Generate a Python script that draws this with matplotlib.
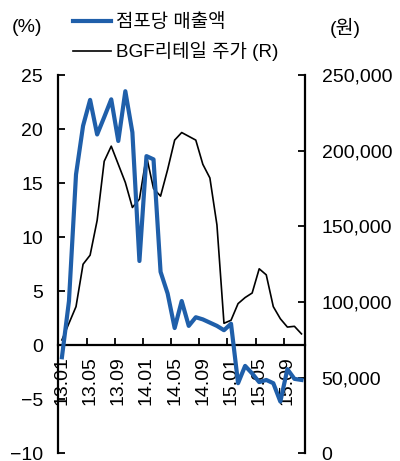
import matplotlib
matplotlib.use("Agg")
import matplotlib.pyplot as plt
import numpy as np

plt.rcParams['font.family'] = ['Liberation Sans', 'Noto Sans CJK KR', 'DejaVu Sans']
plt.rcParams['axes.unicode_minus'] = True

months = ['13.01','13.02','13.03','13.04','13.05','13.06','13.07','13.08','13.09','13.10','13.11','13.12',
          '14.01','14.02','14.03','14.04','14.05','14.06','14.07','14.08','14.09','14.10','14.11','14.12',
          '15.01','15.02','15.03','15.04','15.05','15.06','15.07','15.08','15.09','15.10','15.11']

sales_per_store = [-1.1, 4.1, 15.8, 20.3, 22.7, 19.5, 21.1, 22.75, 18.9, 23.5, 19.7, 7.8,
                   17.5, 17.2, 6.8, 4.8, 1.6, 4.1, 1.8, 2.6, 2.4, 2.1, 1.8, 1.4,
                   2.0, -3.5, -1.9, -2.6, -3.4, -3.2, -3.5, -5.2, -2.2, -3.1, -3.2]

stock_price = [75000, 86000, 97000, 125000, 131000, 154000, 193000, 203000, 191000, 179000, 162500, 168000,
               196500, 175000, 170000, 187500, 207000, 212000, 209500, 207000, 191000, 182000, 151000, 86000,
               88000, 99000, 103000, 106000, 122000, 118000, 97000, 89000, 83500, 84000, 79000]

label_months = ['13.01','13.05','13.09','14.01','14.05','14.09','15.01','15.05','15.09']

left_ticks = [-10, -5, 0, 5, 10, 15, 20, 25]
right_ticks = [0, 50000, 100000, 150000, 200000, 250000]

blue = '#1F5FAA'
fs = 14

fig = plt.figure(figsize=(4.0, 4.61), dpi=100)
ax = fig.add_axes([0.146, 0.0163, 0.7625 - 0.146, 0.8373 - 0.0163])
ax2 = ax.twinx()

x = np.arange(len(months))
l2, = ax2.plot(x, stock_price, color='black', lw=1.2, zorder=2)
l1, = ax.plot(x, sales_per_store, color=blue, lw=3.0, zorder=3)

ax.set_zorder(ax2.get_zorder() + 1)
ax.patch.set_visible(False)

ax.set_xlim(-0.5, len(months) - 0.5)
ax.set_ylim(-10, 25)
ax2.set_ylim(0, 250000)

ax.set_yticks(left_ticks)
ax.set_yticklabels([('\u2212' + str(-v)) if v < 0 else str(v) for v in left_ticks], fontsize=fs)
ax2.set_yticks(right_ticks)
ax2.set_yticklabels([f'{v:,}' for v in right_ticks], fontsize=fs)

# x axis at zero: boundary ticks, labels at category centers
idx = [months.index(m) for m in label_months]
ax.set_xticks([i - 0.5 for i in idx[1:]])
ax.set_xticklabels([])
ax.set_xticks(idx, minor=True)
ax.set_xticklabels(label_months, minor=True)
ax.tick_params(axis='x', which='minor', length=0, pad=8, labelrotation=90, labelsize=fs)
ax.tick_params(axis='x', which='major', direction='in', length=5, width=1.3)

ax.spines['bottom'].set_position(('data', 0))
ax.spines['bottom'].set_linewidth(1.6)
ax.spines['left'].set_linewidth(1.6)
ax.spines['top'].set_visible(False)
ax.spines['right'].set_visible(False)
ax2.spines['top'].set_visible(False)
ax2.spines['bottom'].set_visible(False)
ax2.spines['left'].set_visible(False)
ax2.spines['right'].set_linewidth(1.6)

ax.tick_params(axis='y', direction='in', length=5, width=1.3, pad=11)
ax2.tick_params(axis='y', direction='in', length=5, width=1.3, pad=12)

fig.text(0.03, 0.94, '(%)', fontsize=fs, ha='left', va='center')
fig.text(0.825, 0.94, '(원)', fontsize=fs, ha='left', va='center')

fig.legend([l1, l2], ['점포당 매출액', 'BGF리테일 주가 (R)'], loc='upper left',
           bbox_to_anchor=(0.15, 1.0), frameon=False, fontsize=13.6,
           handlelength=2.0, handletextpad=0.25, labelspacing=0.55, borderaxespad=0.3)

fig.savefig('out.png', dpi=100)
